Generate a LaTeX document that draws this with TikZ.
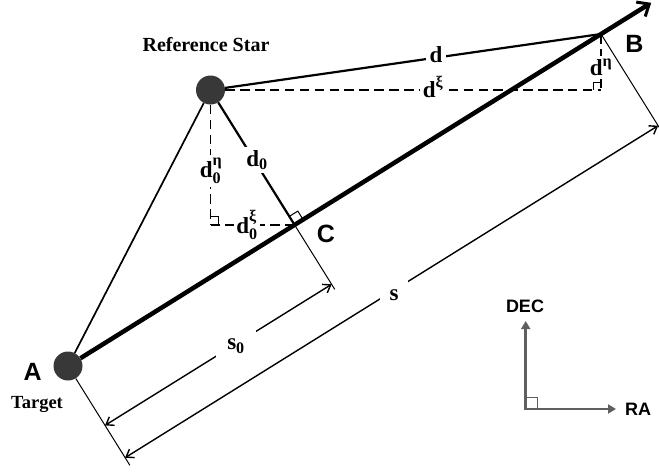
\documentclass[tikz,border=0pt]{standalone}
\usepackage{fontspec}
\usepackage{amsmath}
\setmainfont{Liberation Serif}
\setsansfont{Liberation Sans}
\usetikzlibrary{arrows.meta,calc}
\definecolor{dotgray}{HTML}{383838}
\definecolor{axisgray}{HTML}{5F5F5F}
\begin{document}
\begin{tikzpicture}[x=1pt,y=-1pt,
  dotnode/.style={circle,fill=dotgray,minimum size=29pt,inner sep=0pt},
  mainline/.style={line width=4.5pt,-{Straight Barb[length=10pt,width=17pt,line width=3pt]}},
  medline/.style={line width=2.2pt},
  sideline/.style={line width=1.7pt},
  thinline/.style={line width=1pt},
  dashline/.style={line width=1.4pt,dash pattern=on 9.5pt off 5.4pt},
  dimline/.style={line width=1.4pt,{Straight Barb[length=7pt,width=10pt]}-{Straight Barb[length=7pt,width=10pt]}},
  rmark/.style={line width=1pt},
  mathlab/.style={font=\fontsize{23}{23}\selectfont\bfseries,fill=white,inner sep=#1},
  mathlab/.default=4pt,
  serlab/.style={font=\bfseries},
  letlab/.style={font=\sffamily\bfseries\fontsize{25}{25}\selectfont},
  axlab/.style={font=\sffamily\bfseries\fontsize{18}{18}\selectfont,text=black},
  axarrow/.style={draw=axisgray,line width=2.6pt,-{Triangle[length=8pt,width=9pt]}}
]
\useasboundingbox (0,0) rectangle (659,472);

% key points
\node[dotnode] (S) at (210.5,90) {};
\node[dotnode] (A) at (68,366) {};
\coordinate (B) at (601,34);
\coordinate (C) at (294.6,224.9);
\coordinate (T) at (651.2,2.8);
\coordinate (Q1) at (601,90);
\coordinate (Q2) at (210.5,224.9);
\coordinate (Ap) at (129.9,465.3);
\coordinate (Cp) at (334.8,289.4);
\coordinate (Bp) at (659.2,127.4);
\coordinate (D1) at (105.0,425.4);
\coordinate (D2) at (331.6,284.3);
\coordinate (E1) at (125.1,457.7);
\coordinate (E2) at (658.1,125.7);

% main line A -> B
\draw[mainline] (A) -- (T);
% star connections
\draw[sideline] (S) -- (A);
\draw[medline] (S) -- (B);
\draw[medline] (S) -- (C);
% dashed components
\draw[dashline] (S) -- (Q1);
\draw[dashline] (B) -- (Q1);
\draw[dashline] (S) -- (Q2);
\draw[dashline] (Q2) -- (C);
% right angle marks
\draw[rmark] (593,90) -- (593,82) -- (601,82);
\draw[rmark] (210.5,216.9) -- (218.5,216.9) -- (218.5,224.9);
\draw[rmark] (303.1,219.6) -- (297.8,211.1) -- (289.3,216.4);
% perpendicular extension lines
\draw[thinline] (A) -- (Ap);
\draw[thinline] (C) -- (Cp);
\draw[thinline] (B) -- (Bp);
% dimension lines
\draw[dimline] (D1) -- (D2);
\draw[dimline] (E1) -- (E2);

% labels on lines
\node[mathlab] (ld) at (436,55) {d};
\node[mathlab=3pt] (ldxi) at (433,87) {$\textbf{d}^{\text{ξ}}$};
\node[mathlab=2pt] (ldeta) at (601,67) {$\textbf{d}^{\text{η}}$};
\node[mathlab=3pt] (ld0) at (257,160) {$\textbf{d}_{\textbf{0}}$};
\node[mathlab=3pt] (ld0eta) at (211,171) {$\textbf{d}^{\text{η}}_{\textbf{0}}$};
\node[mathlab=2pt] (ld0xi) at (247,225) {$\textbf{d}^{\text{ξ}}_{\textbf{0}}$};
\node[mathlab=11pt] (ls0) at (236,346) {$\textbf{s}_{\textbf{0}}$};
\node[mathlab=10pt] (ls) at (394,295) {s};

% text labels
\node[serlab,font=\bfseries\fontsize{20}{20}\selectfont] (lref) at (206,45) {Reference Star};
\node[serlab,font=\bfseries\fontsize{18.5}{18.5}\selectfont] (ltarget) at (37,404) {Target};
\node[letlab] (lA) at (32.7,372) {A};
\node[letlab] (lB) at (634.5,44) {B};
\node[letlab] (lC) at (326,234) {C};

% RA / DEC axes
\coordinate (O) at (525.7,409);
\coordinate (Dt) at (525.7,321);
\coordinate (Rt) at (616,409);
\draw[axarrow] ([yshift=1.3pt]O) -- (Dt);
\draw[axarrow] ([xshift=-1.3pt]O) -- (Rt);
\draw[draw=axisgray,line width=1pt] (525.7,397.5) -- (537.2,397.5) -- (537.2,409);
\node[axlab] (ldec) at (525,306) {DEC};
\node[axlab] (lra) at (638,409) {RA};
\end{tikzpicture}
\end{document}
